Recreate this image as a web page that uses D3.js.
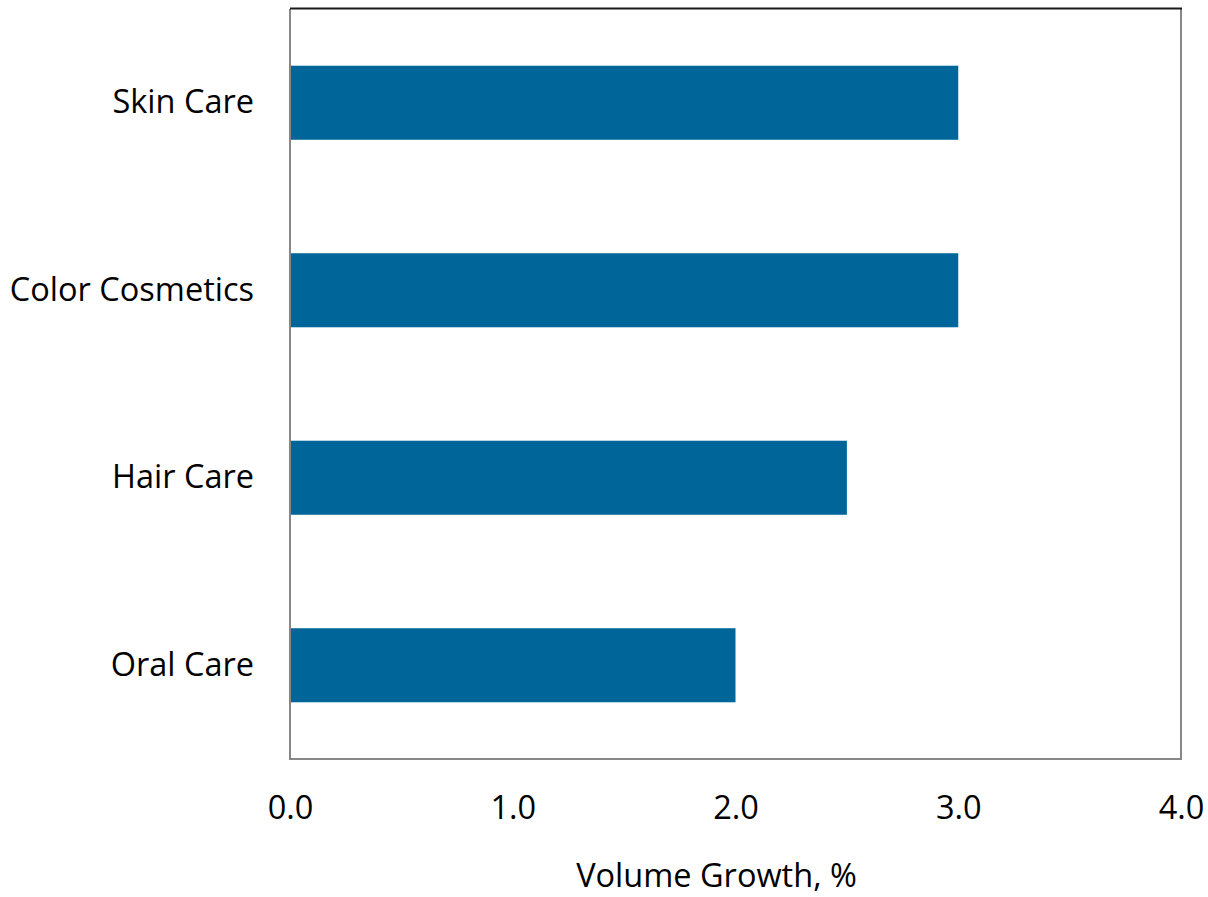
<!DOCTYPE html>
<html>
<head>
<meta charset="utf-8">
<script src="https://cdn.jsdelivr.net/npm/d3@7"></script>
<style>
  html, body { margin: 0; padding: 0; background: #fff; }
  svg { display: block; }
  svg text { font-family: "Open Sans", sans-serif; }
</style>
</head>
<body>
<svg id="chart" width="1208" height="897"></svg>
<script>
// Volume growth by beauty & personal care category
const categories = ["Skin Care", "Color Cosmetics", "Hair Care", "Oral Care"];
const growth = [3.0, 3.0, 2.5, 2.0];
const xTicks = [0, 1, 2, 3, 4];
const xTitle = "Volume Growth, %";

const svg = d3.select("#chart");
const plot = { left: 290, right: 1181, top: 9, bottom: 759 };
const fontSize = 32.5;

const x = d3.scaleLinear().domain([0, 4]).range([plot.left, plot.right]);
const y = d3.scaleBand().domain(categories).range([plot.top, plot.bottom]).paddingInner(0.605).paddingOuter(0.3025);

// bars
svg.append("g").selectAll("rect")
  .data(categories.map((c, i) => ({ c, v: growth[i] })))
  .join("rect")
  .attr("x", x(0))
  .attr("y", d => y(d.c))
  .attr("width", d => x(d.v) - x(0))
  .attr("height", y.bandwidth())
  .attr("fill", "#006699");

// plot frame
svg.append("path")
  .attr("d", `M${plot.left},${plot.top}V${plot.bottom}H${plot.right}V${plot.top}`)
  .attr("fill", "none").attr("stroke", "#878787").attr("stroke-width", 2);
svg.append("line")
  .attr("x1", plot.left).attr("x2", plot.right + 1)
  .attr("y1", plot.top - 0.5).attr("y2", plot.top - 0.5)
  .attr("stroke", "#1a1a1a").attr("stroke-width", 2);

// category axis
const yAxis = d3.axisLeft(y).tickSize(0).tickPadding(36);
svg.append("g").attr("transform", `translate(${plot.left},0)`).call(yAxis)
  .attr("font-family", null).attr("font-size", fontSize)
  .call(g => g.select(".domain").remove())
  .selectAll("text").attr("fill", "#000");

// value axis
const xAxis = d3.axisBottom(x).tickValues(xTicks).tickFormat(d3.format(".1f")).tickSize(0).tickPadding(37);
svg.append("g").attr("transform", `translate(0,${plot.bottom})`).call(xAxis)
  .attr("font-family", null).attr("font-size", fontSize)
  .call(g => g.select(".domain").remove())
  .selectAll("text").attr("fill", "#000");

svg.append("text")
  .attr("x", 716.5).attr("y", 887)
  .attr("text-anchor", "middle")
  .attr("font-size", fontSize)
  .attr("fill", "#000")
  .text(xTitle);
</script>
</body>
</html>
